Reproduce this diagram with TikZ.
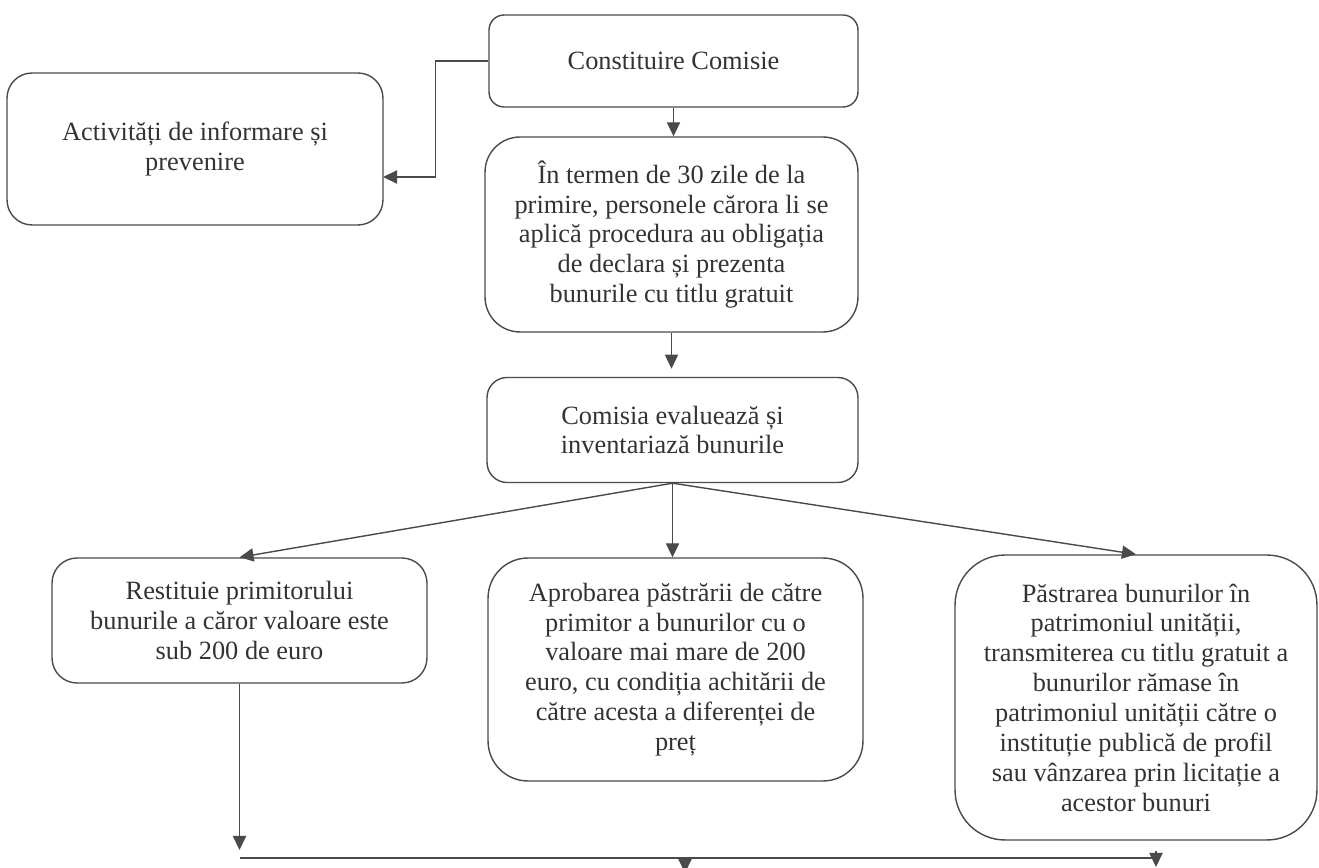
\documentclass[tikz,border=0pt]{standalone}
\usepackage{fontspec}
\setmainfont{Liberation Serif}
\usetikzlibrary{arrows.meta}
\definecolor{linie}{HTML}{4A4A4A}
\definecolor{scris}{HTML}{333333}
\tikzset{
  cutie/.style={draw=linie, line width=0.8pt, rounded corners=0.5cm, align=center,
    text=scris, inner sep=0pt, font=\fontsize{15}{17}\selectfont},
  sageata/.style={draw=linie, line width=0.8pt, -{Triangle[length=8pt,width=7.5pt]}},
  bara/.style={draw=linie, line width=0.8pt},
}
\begin{document}
\begin{tikzpicture}[x=0.02cm,y=-0.02cm]
    \useasboundingbox (0,0) rectangle (1319,868);

    \node[cutie, minimum width=7.38cm, minimum height=1.84cm, rounded corners=0.3cm] (comisie) at (673.5,61) {Constituire Comisie};
    \node[cutie, minimum width=7.52cm, minimum height=3.04cm] (info) at (195,149) {Activități de informare și\\prevenire};
    \node[cutie, minimum width=7.46cm, minimum height=3.9cm, rounded corners=0.7cm] (termen) at (671.5,234.5)
        {În termen de 30 zile de la\\primire, personele cărora li se\\aplică procedura au obligația\\de declara și prezenta\\bunurile cu titlu gratuit};
    \node[cutie, minimum width=7.42cm, minimum height=2.1cm, rounded corners=0.4cm] (evaluare) at (672.5,430)
        {Comisia evaluează și\\inventariază bunurile};

    \node[cutie, minimum width=7.5cm, minimum height=2.5cm] (restituie) at (239.5,620.5)
        {Restituie primitorului\\bunurile a căror valoare este\\sub 200 de euro};
    \node[cutie, minimum width=7.5cm, minimum height=4.46cm, rounded corners=0.8cm] (aprobare) at (675.5,669.5)
        {Aprobarea păstrării de către\\primitor a bunurilor cu o\\valoare mai mare de 200\\euro, cu condiția achitării de\\către acesta a diferenței de\\preț};
    \node[cutie, minimum width=7.24cm, minimum height=5.7cm, rounded corners=1cm] (pastrare) at (1136,697.5)
        {Păstrarea bunurilor în\\patrimoniul unității,\\transmiterea cu titlu gratuit a\\bunurilor rămase în\\patrimoniul unității către o\\instituție publică de profil\\sau vânzarea prin licitație a\\acestor bunuri};

    \coordinate (infoin) at (383,177);
    \coordinate (barast) at (239.5,858);
    \coordinate (baradr) at (1156,858);
    \coordinate (capst) at (239.5,850);
    \coordinate (capdr) at (1156,851);
    \coordinate (mijloc) at (685,858);

    \draw[sageata] (comisie.west) -- ++(-53,0) |- (infoin);
    \draw[sageata] (comisie.south) -- (comisie.south |- termen.north);
    \draw[sageata] (termen.south) -- ++(0,36);
    \draw[sageata] (evaluare.south) -- (restituie.north);
    \draw[sageata] (evaluare.south) -- (evaluare.south |- aprobare.north);
    \draw[sageata] (evaluare.south) -- (pastrare.north);

    \draw[sageata] (restituie.south) -- (capst);
    \draw[bara] (barast) -- (baradr);
    \draw[sageata] (capdr) -- ++(0,16);
    \draw[sageata] (mijloc) -- ++(0,15);
\end{tikzpicture}
\end{document}
